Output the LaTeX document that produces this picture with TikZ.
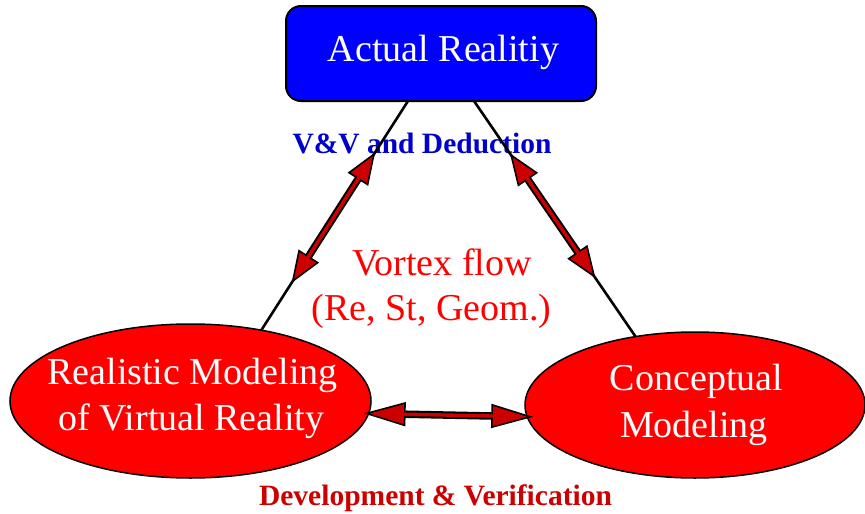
\documentclass[tikz,border=0pt]{standalone}
\usepackage{fontspec}
\setmainfont{Liberation Serif}
\usetikzlibrary{shapes.geometric,arrows.meta,calc}
\definecolor{arrowred}{RGB}{204,0,0}
\definecolor{vvblue}{RGB}{0,0,204}
\definecolor{devred}{RGB}{204,0,0}
\tikzset{
 bigtext/.style={font=\fontsize{38}{45}\selectfont, inner sep=0pt, anchor=base},
 labtext/.style={font=\bfseries\fontsize{29.5}{34}\selectfont, inner sep=0pt, anchor=base},
 bubble/.style={ellipse, draw=black, fill=red, line width=1.5pt, inner sep=0pt, outer sep=0pt},
 link/.style={draw=black, line width=2.6pt},
 arrowouter/.style={line width=7.5pt, black,
   {Triangle[length=#1,width=24pt,fill=arrowred,line width=1.6pt]}-{Triangle[length=#1,width=24pt,fill=arrowred,line width=1.6pt]}},
 arrowinner/.style={line width=3.4pt, arrowred, shorten <=#1, shorten >=#1},
}
\begin{document}
\begin{tikzpicture}[x=1pt,y=-1pt]
\path[use as bounding box] (0,0) rectangle (865,514);
% nodes
\node[draw=black, fill=blue, rounded corners=15pt, line width=2pt, minimum width=310pt, minimum height=95pt, inner sep=0pt, outer sep=0pt] (box) at (441,53.5) {};
\node[bubble, minimum width=361pt, minimum height=154pt] (left) at (190.5,401) {};
\node[bubble, minimum width=340pt, minimum height=146pt] (right) at (695,405) {};
% texts
\node[labtext, text=vvblue] (t8) at (422,153) {V\&V and Deduction};
\node[bigtext, text=white] (t1) at (443.5,61) {Actual Realitiy};
\node[bigtext, text=white] (t2) at (192.5,384) {Realistic Modeling};
\node[bigtext, text=white] (t3) at (191.5,430) {of Virtual Reality};
\node[bigtext, text=white] (t4) at (696.5,390) {Conceptual};
\node[bigtext, text=white] (t5) at (694,437) {Modeling};
\node[bigtext, text=red] (t6) at (442,275) {Vortex flow};
\node[bigtext, text=red] (t7) at (431.5,320) {(Re, St, Geom.)};
\node[labtext, text=devred] (t9) at (435.5,505) {Development \& Verification};
% connector end points
\coordinate (tl) at ([xshift=-33pt]box.south);
\coordinate (tr) at ([xshift=33pt]box.south);
\coordinate (lb) at (left.45);
\coordinate (rb) at (right.131.5);
\draw[link] (tl) -- (lb);
\draw[link] (tr) -- (rb);
% arrow tips
\coordinate (a1) at ($(tl)!0.224!(lb)$);
\coordinate (a2) at ($(tl)!0.794!(lb)$);
\coordinate (b1) at ($(tr)!0.222!(rb)$);
\coordinate (b2) at ($(tr)!0.752!(rb)$);
\coordinate (hl) at ($(left.-4.5)!-5pt!(right.184)$);
\coordinate (hr) at ($(right.184)!-6pt!(left.-4.5)$);
\draw[arrowouter=32pt] (a1) -- (a2);
\draw[arrowinner=29pt] (a1) -- (a2);
\draw[arrowouter=32pt] (b1) -- (b2);
\draw[arrowinner=29pt] (b1) -- (b2);
\draw[arrowouter=42pt] (hl) -- (hr);
\draw[arrowinner=39pt] (hl) -- (hr);
\end{tikzpicture}
\end{document}
